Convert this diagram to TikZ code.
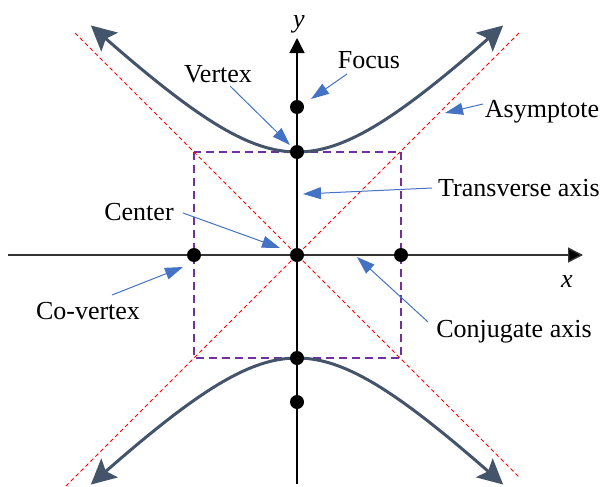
\documentclass[tikz,border=0pt]{standalone}
\usepackage{fontspec}
\setmainfont{Liberation Serif}
\usetikzlibrary{arrows.meta}
\definecolor{hypc}{HTML}{44546A}
\definecolor{callc}{HTML}{4472C4}
\definecolor{boxc}{HTML}{7030A0}
\begin{document}
\begin{tikzpicture}[x=0.5pt,y=-0.5pt,
  font=\fontsize{13}{15}\selectfont,
  lbl/.style={anchor=base, inner sep=0pt},
  dotpt/.style={circle, fill=black, inner sep=0pt, minimum size=7pt},
  callarrow/.style={draw=callc, line width=0.5pt, -{Triangle[length=9pt,width=6pt]}},
  asym/.style={draw=red, dash pattern=on 2pt off 1.5pt, line width=0.5pt},
  boxline/.style={draw=boxc, dash pattern=on 4pt off 2.5pt, line width=0.75pt},
  axisline/.style={draw=black!80, line width=0.7pt, -{Triangle[length=7.5pt,width=7.5pt,fill=black]}},
  hypline/.style={draw=hypc, line width=1.5pt,
    {Stealth[length=12.5pt,width=12.5pt,inset=2.5pt]}-{Stealth[length=12.5pt,width=12.5pt,inset=2.5pt]}}
]
\useasboundingbox (0,0) rectangle (605,487);

% fundamental box
\draw[boxline] (194,152) rectangle (401,358);

% asymptotes
\coordinate (a1s) at (75,33);
\coordinate (a1e) at (519,477);
\coordinate (a2s) at (519,33);
\coordinate (a2e) at (66,486);
\draw[asym] (a1s) -- (a1e);
\draw[asym] (a2s) -- (a2e);

% axes
\coordinate (xl) at (8,255);
\coordinate (xr) at (583,255);
\coordinate (yb) at (297,484);
\coordinate (yt) at (297,38);
\draw[axisline] (xl) -- (xr);
\draw[axisline, draw=black] (yb) -- (yt);
\node[lbl] (xlab) at (567,287) {\itshape x};
\node[lbl] (ylab) at (299,27) {\itshape y};

% hyperbola branches
\draw[hypline] plot[domain=-1.44:1.44, samples=80, variable=\t, smooth]
  ({297+103.5*sinh(\t)},{255-103*cosh(\t)});
\draw[hypline] plot[domain=-1.44:1.44, samples=80, variable=\t, smooth]
  ({297+103.5*sinh(\t)},{255+103*cosh(\t)});

% points
\node[dotpt] (F1) at (297,107) {};
\node[dotpt] (V1) at (297,152) {};
\node[dotpt] (C) at (297,255) {};
\node[dotpt] (CV1) at (194,255) {};
\node[dotpt] (CV2) at (401,255) {};
\node[dotpt] (V2) at (297,358) {};
\node[dotpt] (F2) at (297,402) {};

% labels
\node[lbl] (tVertex) at (218,82) {Vertex};
\node[lbl] (tFocus) at (369,68) {Focus};
\node[lbl] (tAsym) at (542,117) {Asymptote};
\node[lbl] (tTrans) at (519,196) {Transverse axis};
\node[lbl] (tCenter) at (139,220) {Center};
\node[lbl] (tCov) at (88,319) {Co-vertex};
\node[lbl] (tConj) at (514,337) {Conjugate axis};

% callout arrows
\coordinate (cVs) at (230,86);   \coordinate (cVe) at (290,145);
\coordinate (cFs) at (347,74);   \coordinate (cFe) at (311,99);
\coordinate (cAs) at (483,104);  \coordinate (cAe) at (445,113);
\coordinate (cTs) at (432,188);  \coordinate (cTe) at (303,194);
\coordinate (cCs) at (183,213);  \coordinate (cCe) at (280,248);
\coordinate (cOs) at (112,295);  \coordinate (cOe) at (183,267);
\coordinate (cJs) at (428,322);  \coordinate (cJe) at (357,257);
\draw[callarrow] (cVs) -- (cVe);
\draw[callarrow] (cFs) -- (cFe);
\draw[callarrow] (cAs) -- (cAe);
\draw[callarrow] (cTs) -- (cTe);
\draw[callarrow] (cCs) -- (cCe);
\draw[callarrow] (cOs) -- (cOe);
\draw[callarrow] (cJs) -- (cJe);
\end{tikzpicture}
\end{document}
